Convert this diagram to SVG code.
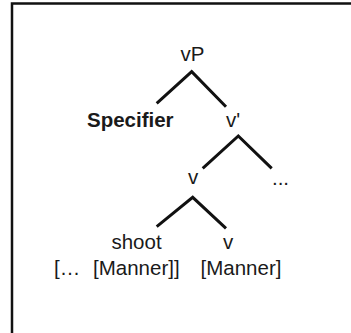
<svg xmlns="http://www.w3.org/2000/svg" width="351" height="333" viewBox="0 0 351 333">
  <style>
    text { font-family: "Liberation Sans", Arial, sans-serif; font-size: 20.5px; fill: #1a1a1a; }
    .b { font-weight: bold; }
    .m { text-anchor: middle; }
    .edge { stroke: #111; stroke-width: 3; fill: none; stroke-linecap: butt; stroke-linejoin: miter; }
    .frame { stroke: #111; stroke-width: 2.5; fill: none; }
  </style>
  <rect width="351" height="333" fill="#ffffff"/>
  <path class="frame" d="M12,333 V3.5 H351"/>
  <g id="connectors">
    <polyline class="edge" points="156.7,103.3 191.7,71.7 226,106.7"/>
    <polyline class="edge" points="202.7,168.3 238.3,136 271.7,168.3"/>
    <polyline class="edge" points="156.7,226.7 192.7,197.3 226,228.3"/>
  </g>
  <g id="node-vP"><text class="m" x="192.5" y="61">vP</text></g>
  <g id="node-specifier"><text class="b" x="87" y="126.5">Specifier</text></g>
  <g id="node-vbar"><text class="m" x="233" y="126.5">v'</text></g>
  <g id="node-v"><text class="m" x="193" y="184">v</text></g>
  <g id="node-ellipsis"><text class="m" x="280.5" y="185">...</text></g>
  <g id="node-shoot">
    <text class="m" x="136.5" y="249">shoot</text>
    <text y="275"><tspan x="54">[…</tspan><tspan x="93">[Manner]]</tspan></text>
  </g>
  <g id="node-v-manner">
    <text class="m" x="228" y="249">v</text>
    <text class="m" x="241" y="275">[Manner]</text>
  </g>
</svg>
